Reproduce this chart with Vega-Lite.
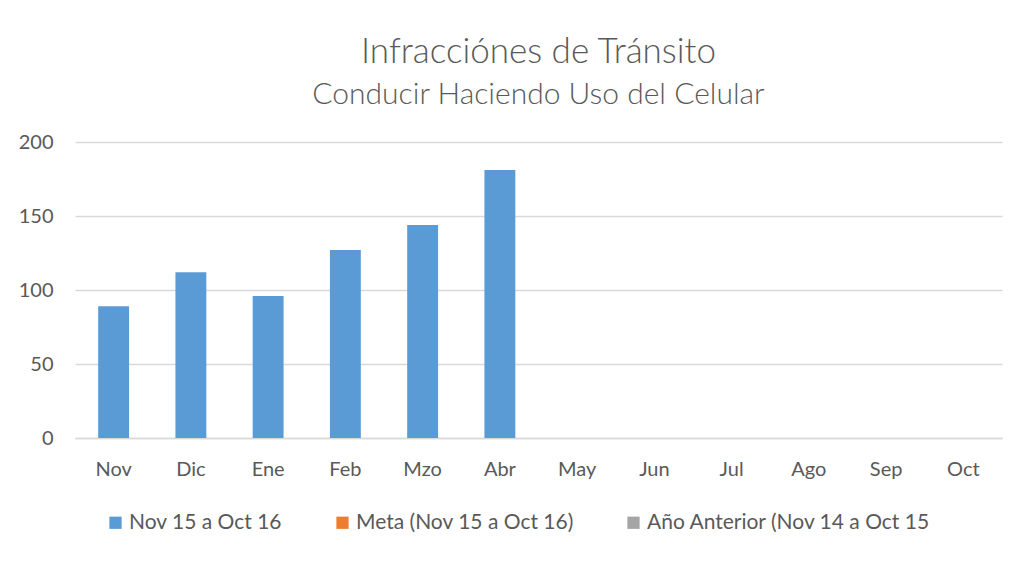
{
  "$schema": "https://vega.github.io/schema/vega-lite/v6.json",
  "width": 927,
  "height": 296,
  "autosize": {"type": "none"},
  "padding": {"left": 75, "top": 142, "right": 29, "bottom": 123},
  "background": "white",
  "title": {
    "text": "Infracciónes de Tránsito",
    "subtitle": "Conducir Haciendo Uso del Celular",
    "anchor": "middle",
    "font": "Lato",
    "fontSize": 35,
    "fontWeight": 300,
    "color": "#595959",
    "subtitleFont": "Lato",
    "subtitleFontSize": 30,
    "subtitleFontWeight": 300,
    "subtitleColor": "#595959",
    "subtitlePadding": 10,
    "offset": 22
  },
  "data": {
    "values": [
      {"mes": "Nov", "serie": "Nov 15 a Oct 16", "valor": 89},
      {"mes": "Dic", "serie": "Nov 15 a Oct 16", "valor": 112},
      {"mes": "Ene", "serie": "Nov 15 a Oct 16", "valor": 96},
      {"mes": "Feb", "serie": "Nov 15 a Oct 16", "valor": 127},
      {"mes": "Mzo", "serie": "Nov 15 a Oct 16", "valor": 144},
      {"mes": "Abr", "serie": "Nov 15 a Oct 16", "valor": 181},
      {"mes": "May", "serie": "Nov 15 a Oct 16", "valor": null},
      {"mes": "Jun", "serie": "Nov 15 a Oct 16", "valor": null},
      {"mes": "Jul", "serie": "Nov 15 a Oct 16", "valor": null},
      {"mes": "Ago", "serie": "Nov 15 a Oct 16", "valor": null},
      {"mes": "Sep", "serie": "Nov 15 a Oct 16", "valor": null},
      {"mes": "Oct", "serie": "Nov 15 a Oct 16", "valor": null}
    ]
  },
  "mark": {"type": "bar"},
  "encoding": {
    "x": {
      "field": "mes",
      "type": "ordinal",
      "sort": ["Nov","Dic","Ene","Feb","Mzo","Abr","May","Jun","Jul","Ago","Sep","Oct"],
      "scale": {"paddingInner": 0.6, "paddingOuter": 0.3},
      "axis": {
        "title": null,
        "labelAngle": 0,
        "labelFont": "Lato",
        "labelFontSize": 20,
        "labelColor": "#595959",
        "labelPadding": 21,
        "ticks": false,
        "domainColor": "#d9d9d9",
        "domainWidth": 1.3
      }
    },
    "y": {
      "field": "valor",
      "type": "quantitative",
      "scale": {"domain": [0, 200]},
      "axis": {
        "title": null,
        "values": [0, 50, 100, 150, 200],
        "labelFont": "Lato",
        "labelFontSize": 20,
        "labelColor": "#595959",
        "labelPadding": 22,
        "ticks": false,
        "domain": false,
        "gridColor": "#d9d9d9",
        "gridWidth": 1.3
      }
    },
    "color": {
      "field": "serie",
      "type": "nominal",
      "scale": {
        "domain": ["Nov 15 a Oct 16", "Meta (Nov 15 a Oct 16)", "Año Anterior (Nov 14 a Oct 15"],
        "range": ["#5B9BD5", "#ED7D31", "#A5A5A5"]
      },
      "legend": {
        "title": null,
        "orient": "none",
        "legendX": 30,
        "legendY": 370,
        "direction": "horizontal",
        "symbolType": "square",
        "symbolSize": 150,
        "symbolStrokeWidth": 0,
        "labelFont": "Lato",
        "labelFontSize": 21,
        "labelColor": "#595959",
        "labelOffset": 3,
        "columnPadding": 49,
        "labelLimit": 400
      }
    }
  },
  "config": {
    "view": {"stroke": null}
  }
}
